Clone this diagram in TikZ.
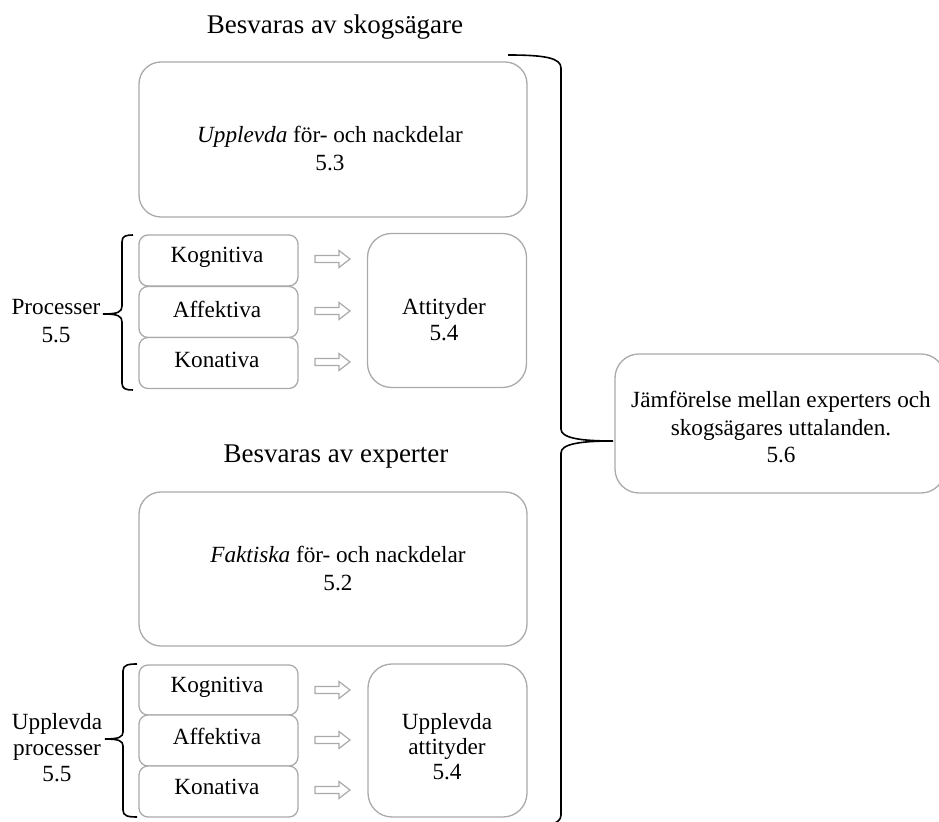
\documentclass[tikz,border=0pt]{standalone}
\usepackage{fontspec}
\setmainfont{Liberation Serif}
\definecolor{boxgray}{RGB}{170,170,170}
\begin{document}
\begin{tikzpicture}[x=0.5pt,y=-0.5pt,
  boxline/.style={draw=boxgray, line width=0.65pt, fill=white, inner sep=0pt},
  bigbox/.style={boxline, rounded corners=11pt, minimum width=194pt, minimum height=77.5pt},
  smallbox/.style={boxline, rounded corners=4.5pt, minimum width=79.5pt, minimum height=25.5pt},
  attbox/.style={boxline, rounded corners=12pt, minimum width=79.5pt, minimum height=77pt},
  rightbox/.style={boxline, rounded corners=12pt, minimum width=165pt, minimum height=69.5pt},
  txt/.style={inner sep=0pt, align=center, font=\fontsize{11.6}{#1}\selectfont},
  txt/.default=13pt,
  title/.style={inner sep=0pt, align=center, font=\fontsize{13.5}{16}\selectfont},
  hollow/.style={draw=boxgray, line width=0.6pt, fill=white, line join=miter},
  bracel/.style={draw=black, line width=0.8pt}
]
\useasboundingbox (0,0) rectangle (939,822);

% ---------- top section ----------
\node[title] (t1) at (335,27) {Besvaras av skogsägare};
\node[bigbox] (b1) at (333,139.5) {};
\node[txt=14pt] (b1t) at (330,149) {\textit{Upplevda} för- och nackdelar\\5.3};

\node[smallbox] (k1) at (218.5,260.5) {};
\node[smallbox] (a1) at (218.5,312) {};
\node[smallbox] (n1) at (218.5,363) {};
\node[txt] (k1t) at (217,257) {Kognitiva};
\node[txt] (a1t) at (217,309) {Affektiva};
\node[txt] (n1t) at (217,360) {Konativa};

\node[attbox] (at1) at (447,310.5) {};
\node[txt] (at1t) at (444,320) {Attityder\\5.4};

\node[txt=14pt] (p1) at (56,321) {Processer\\5.5};

% small brace top
\coordinate (bt1) at (103,314);
\draw[bracel] (133,235) .. controls (126,235) and (122,236) .. (122,242)
  -- (122,306) .. controls (122,312) and (118,314) .. (bt1)
  (bt1) .. controls (118,314) and (122,316) .. (122,322)
  -- (122,383) .. controls (122,389) and (126,390) .. (133,390);

% ---------- bottom section ----------
\node[title] (t2) at (336,457) {Besvaras av experter};
\node[bigbox, minimum height=77pt] (b2) at (333,569) {};
\node[txt=14pt] (b2t) at (338,569) {\textit{Faktiska} för- och nackdelar\\5.2};

\node[smallbox, minimum height=25pt] (k2) at (218.5,690) {};
\node[smallbox] (a2) at (218.5,740.5) {};
\node[smallbox] (n2) at (218.5,791.5) {};
\node[txt] (k2t) at (217,687) {Kognitiva};
\node[txt] (a2t) at (217,736.5) {Affektiva};
\node[txt] (n2t) at (217,787) {Konativa};

\node[attbox, minimum height=76.5pt] (at2) at (447.5,740.5) {};
\node[txt=12.5pt] (at2t) at (447,747) {Upplevda\\attityder\\5.4};

\node[txt] (p2) at (57,748) {Upplevda\\processer\\5.5};

% small brace bottom
\coordinate (bt2) at (105,739);
\draw[bracel] (137,664) .. controls (128,664) and (123,665) .. (123,671)
  -- (123,732) .. controls (123,737) and (119,739) .. (bt2)
  (bt2) .. controls (119,739) and (123,741) .. (123,746)
  -- (123,810) .. controls (123,816) and (128,817) .. (137,817);

% ---------- hollow arrows ----------
\foreach \n/\yy in {ar1/259, ar2/311, ar3/362, ar4/690, ar5/740, ar6/790}{
  \coordinate (\n) at (315,\yy);
  \draw[hollow] (\n) ++(0,-3.5) -- ++(24,0) -- ++(0,-5) -- ++(11,8.5) -- ++(-11,8.5) -- ++(0,-5) -- ++(-24,0) -- cycle;
}

% ---------- right part ----------
\node[rightbox] (jf) at (780,423.5) {};
\node[txt=13.75pt] (jft) at (781,427.5)
  {Jämförelse mellan experters och\\skogsägares uttalanden.\\5.6};

\coordinate (bigtip) at (613,441);
\draw[bracel] (508,55) .. controls (545,55) and (561,58) .. (561,68)
  -- (561,429) .. controls (561,438) and (580,441) .. (bigtip)
  (bigtip) .. controls (580,441) and (561,444) .. (561,453)
  -- (561,815) .. controls (561,825) and (545,828) .. (508,828);
\end{tikzpicture}
\end{document}
